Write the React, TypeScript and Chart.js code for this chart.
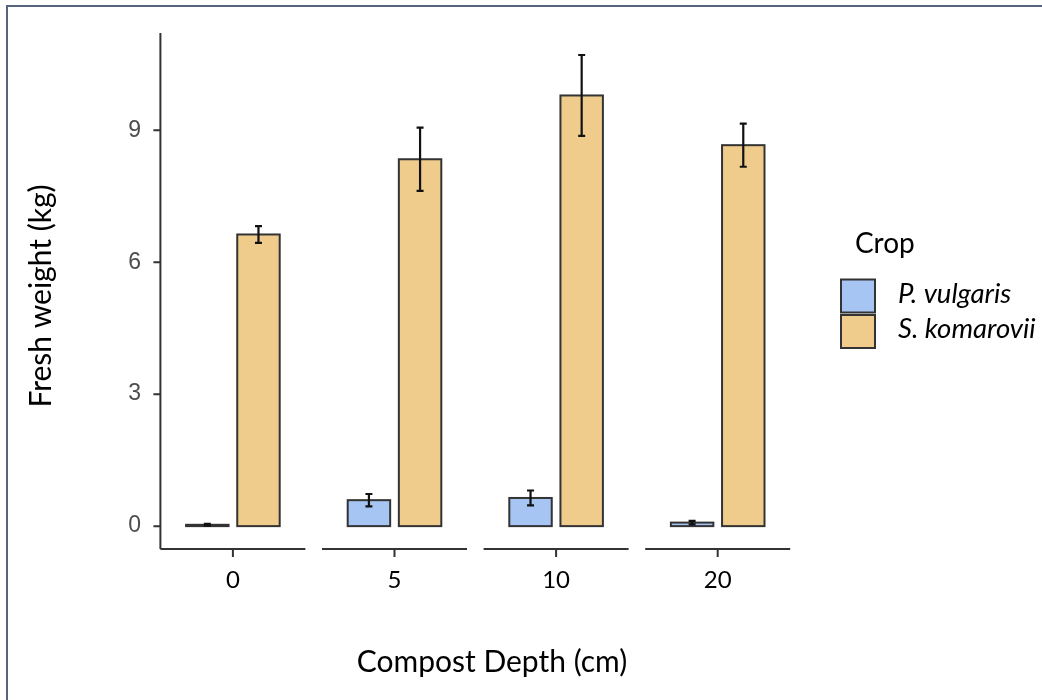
import { useEffect, useRef } from "react";
import { Chart, registerables } from "chart.js";

Chart.register(...registerables);

// ---- data ----
const depths = ["0", "5", "10", "20"];
const seriesNames = ["P. vulgaris", "S. komarovii"];
const pVulgaris = [0.03, 0.59, 0.64, 0.08];
const pVulgarisErr = [0.02, 0.14, 0.17, 0.04];
const sKomarovii = [6.63, 8.34, 9.79, 8.66];
const sKomaroviiErr = [0.19, 0.72, 0.92, 0.49];
const yTicks = [0, 3, 6, 9];
const yMin = -0.52;
const yMax = 11.21;

const errors = [pVulgarisErr, sKomaroviiErr];
const colors = ["#a7c5f2", "#f0cc8c"];

const HUMANIST = "Lato, 'Open Sans', sans-serif";
const AXIS_DARK = "#333333";
const PANEL_HALF = 0.4486; // fraction of category width for each facet's axis segment

const decorPlugin = {
  id: "decor",
  beforeDraw(chart: any) {
    const ctx = chart.ctx;
    ctx.save();
    ctx.fillStyle = "#ffffff";
    ctx.fillRect(0, 0, chart.width, chart.height);
    ctx.strokeStyle = "#56657e";
    ctx.lineWidth = 2;
    ctx.beginPath();
    ctx.moveTo(7, chart.height);
    ctx.lineTo(7, 6);
    ctx.lineTo(chart.width, 6);
    ctx.stroke();
    ctx.restore();
  },
  afterDatasetsDraw(chart: any) {
    const ctx = chart.ctx;
    const xs = chart.scales.x;
    const ys = chart.scales.y;
    const area = chart.chartArea;
    const catW = xs.getPixelForValue(1) - xs.getPixelForValue(0);
    const half = PANEL_HALF * catW;
    ctx.save();

    // bar outlines centred on the bar edges (ggplot style)
    chart.data.datasets.forEach((_ds: any, di: number) => {
      const meta = chart.getDatasetMeta(di);
      meta.data.forEach((bar: any) => {
        const w = bar.width;
        const top = Math.min(bar.y, bar.base);
        const h = Math.abs(bar.base - bar.y);
        ctx.strokeStyle = AXIS_DARK;
        ctx.lineWidth = 2;
        ctx.strokeRect(bar.x - w / 2, top, w, h);
      });
    });

    // error bars
    chart.data.datasets.forEach((ds: any, di: number) => {
      const meta = chart.getDatasetMeta(di);
      meta.data.forEach((bar: any, i: number) => {
        const v = ds.data[i];
        const e = errors[di][i];
        const yTop = ys.getPixelForValue(v + e);
        const yBot = ys.getPixelForValue(v - e);
        const x = bar.x;
        ctx.strokeStyle = "#111111";
        ctx.lineWidth = 2.2;
        ctx.beginPath();
        ctx.moveTo(x, yTop);
        ctx.lineTo(x, yBot);
        ctx.moveTo(x - 3.5, yTop);
        ctx.lineTo(x + 3.5, yTop);
        ctx.moveTo(x - 3.5, yBot);
        ctx.lineTo(x + 3.5, yBot);
        ctx.stroke();
      });
    });

    // y axis line and ticks
    const x0 = xs.getPixelForValue(0) - half;
    ctx.strokeStyle = AXIS_DARK;
    ctx.lineWidth = 2;
    ctx.beginPath();
    ctx.moveTo(x0, area.top);
    ctx.lineTo(x0, area.bottom);
    yTicks.forEach((t) => {
      const y = ys.getPixelForValue(t);
      ctx.moveTo(x0 - 7, y);
      ctx.lineTo(x0, y);
    });
    // x axis segments (one per facet) and ticks
    depths.forEach((_, i) => {
      const c = xs.getPixelForValue(i);
      ctx.moveTo(c - half, area.bottom);
      ctx.lineTo(c + half, area.bottom);
      ctx.moveTo(c, area.bottom);
      ctx.lineTo(c, area.bottom + 8);
    });
    ctx.stroke();

    // axis titles
    ctx.fillStyle = "#000000";
    ctx.font = `30px ${HUMANIST}`;
    ctx.textAlign = "center";
    ctx.textBaseline = "alphabetic";
    ctx.fillText("Compost Depth (cm)", 492, 672);
    ctx.save();
    ctx.translate(51, 296);
    ctx.rotate(-Math.PI / 2);
    ctx.fillText("Fresh weight (kg)", 0, 0);
    ctx.restore();

    // legend
    ctx.textAlign = "left";
    ctx.font = `28px ${HUMANIST}`;
    ctx.fillText("Crop", 855, 253);
    ctx.font = `italic 27.5px ${HUMANIST}`;
    chart.data.datasets.forEach((ds: any, di: number) => {
      const top = 279.5 + di * 35.5;
      ctx.fillStyle = ds.backgroundColor;
      ctx.fillRect(841, top, 34, 33);
      ctx.strokeStyle = AXIS_DARK;
      ctx.lineWidth = 2;
      ctx.strokeRect(841, top, 34, 33);
      ctx.fillStyle = "#000000";
      ctx.fillText(ds.label, 898, top + 23);
    });
    ctx.restore();
  },
};

export default function App() {
  const ref = useRef<HTMLCanvasElement | null>(null);
  useEffect(() => {
    if (!ref.current) return;
    const chart = new Chart(ref.current, {
      type: "bar",
      data: {
        labels: depths,
        datasets: [
          {
            label: seriesNames[0],
            data: pVulgaris,
            backgroundColor: colors[0],
            borderWidth: 0,
          },
          {
            label: seriesNames[1],
            data: sKomarovii,
            backgroundColor: colors[1],
            borderWidth: 0,
          },
        ],
      },
      plugins: [decorPlugin],
      options: {
        responsive: false,
        devicePixelRatio: 1,
        animation: false,
        layout: { padding: { left: 0, top: 33, right: 243.5, bottom: 0 } },
        datasets: { bar: { categoryPercentage: 0.633, barPercentage: 0.83 } },
        plugins: {
          legend: { display: false },
          tooltip: { enabled: false },
        },
        scales: {
          x: {
            type: "category",
            offset: true,
            grid: { display: false, drawTicks: false },
            border: { display: false },
            ticks: {
              font: { family: HUMANIST, size: 24 },
              color: "#000000",
              padding: 17,
            },
            afterFit: (s: any) => {
              s.height = 151;
            },
          },
          y: {
            type: "linear",
            min: yMin,
            max: yMax,
            grid: { display: false, drawTicks: false },
            border: { display: false },
            afterBuildTicks: (s: any) => {
              s.ticks = yTicks.map((v) => ({ value: v }));
            },
            ticks: {
              font: { family: "'Liberation Sans', Arial, sans-serif", size: 23 },
              color: "#4d4d4d",
              padding: 11,
            },
            afterFit: (s: any) => {
              s.width = 152.1;
            },
          },
        },
      },
    });
    return () => chart.destroy();
  }, []);
  return (
    <div style={{ position: "fixed", left: 0, top: 0, width: 1042, height: 700, background: "#fff" }}>
      <canvas ref={ref} width={1042} height={700} style={{ display: "block" }} />
    </div>
  );
}
